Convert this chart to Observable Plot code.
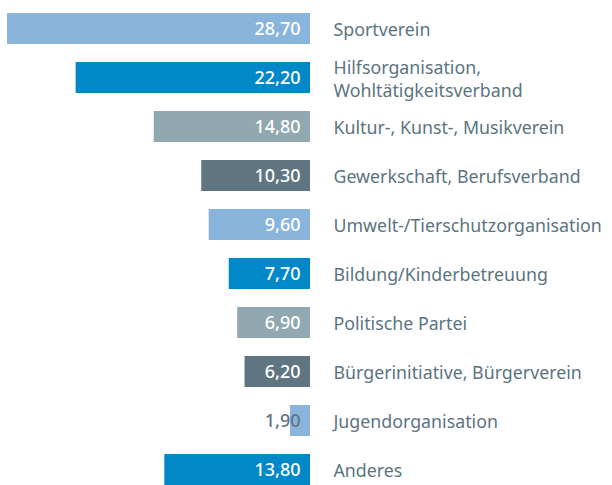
<!DOCTYPE html>
<html><head><meta charset="utf-8">
<script src="https://cdn.jsdelivr.net/npm/d3@7"></script>
<script src="https://cdn.jsdelivr.net/npm/@observablehq/plot@0.6"></script>
<style>
html,body{margin:0;padding:0;background:#fff;}
#chart svg{display:block;}
</style>
</head><body><div id="chart"></div>
<script>
const categories = ["Sportverein","Hilfsorganisation,\nWohltätigkeitsverband","Kultur-, Kunst-, Musikverein","Gewerkschaft, Berufsverband","Umwelt-/Tierschutzorganisation","Bildung/Kinderbetreuung","Politische Partei","Bürgerinitiative, Bürgerverein","Jugendorganisation","Anderes"];
const values = [28.7,22.2,14.8,10.3,9.6,7.7,6.9,6.2,1.9,13.8];
const palette = ["#89b5dd","#0088c9","#91a8b0","#5f7581"];
const data = categories.map((c,i)=>({cat:c, v:values[i], col:palette[i%4], small: values[i] < 3}));
const fmt = v => v.toFixed(2).replace(".", ",");
const chart = Plot.plot({
  width: 612, height: 485,
  marginLeft: 7, marginRight: 302, marginTop: 0, marginBottom: 0,
  style: {fontFamily: "'Noto Sans', sans-serif", background: "#fff", overflow: "visible"},
  x: {domain: [28.7, 0], axis: null},
  y: {domain: categories, range: [11, 11 + 49.35*(10-0.372)], paddingInner: 0.372, paddingOuter: 0, axis: null},
  marks: [
    Plot.barX(data, {x1: 0, x2: "v", y: "cat", fill: "col"}),
    Plot.text(data, {x: 0, y: "cat", text: d => fmt(d.v), textAnchor: "end", dx: -10, fill: d => d.small ? "#5f7581" : "#fff", fontSize: 18, fontWeight: 500}),
    Plot.text(data, {x: 0, y: "cat", text: "cat", textAnchor: "start", dx: 23, fill: "#5b7480", fontSize: 17.8, lineHeight: 1.3})
  ]
});
document.getElementById("chart").appendChild(chart);
</script>
</body></html>
